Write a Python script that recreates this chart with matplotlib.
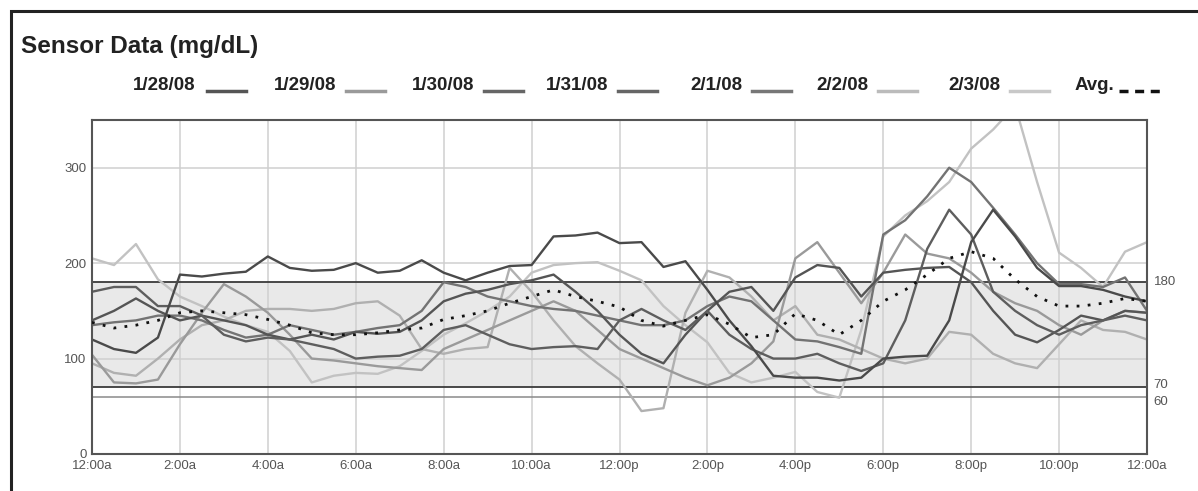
import numpy as np
import matplotlib
matplotlib.use('Agg')
import matplotlib.pyplot as plt
from matplotlib.lines import Line2D
from matplotlib.patches import Rectangle

plt.rcParams['font.family'] = ['Liberation Sans', 'DejaVu Sans']

# readings every half hour, 12:00a .. 12:00a
hours = np.arange(0, 24.5, 0.5)

d_0128 = [120, 110, 106, 122, 188, 186, 189, 191, 207, 195, 192, 193, 200, 190, 192, 203,
          190, 182, 190, 197, 198, 228, 229, 232, 221, 222, 196, 202, 172, 140, 113, 82,
          80, 80, 77, 80, 100, 102, 103, 140, 222, 256, 228, 195, 176, 176, 172, 165, 160]
d_0129 = [104, 75, 74, 78, 115, 148, 178, 165, 148, 125, 100, 98, 95, 92, 90, 88,
          110, 120, 130, 140, 150, 160, 150, 130, 110, 100, 90, 80, 72, 80, 95, 118,
          205, 222, 190, 158, 190, 230, 210, 205, 190, 170, 158, 150, 135, 125, 140, 150, 148]
d_0130 = [170, 175, 175, 155, 155, 145, 125, 118, 122, 120, 115, 110, 100, 102, 103, 110,
          130, 135, 125, 115, 110, 112, 113, 110, 140, 152, 140, 130, 150, 125, 110, 100,
          100, 105, 95, 87, 95, 140, 215, 256, 230, 170, 150, 135, 125, 135, 140, 145, 140]
d_0131 = [140, 150, 163, 150, 140, 145, 140, 135, 125, 120, 125, 120, 128, 126, 128, 140,
          160, 168, 172, 178, 182, 188, 170, 150, 125, 105, 95, 125, 150, 170, 175, 150,
          185, 198, 195, 165, 190, 193, 195, 196, 180, 150, 125, 117, 130, 145, 140, 150, 148]
d_0201 = [135, 138, 140, 145, 145, 140, 130, 122, 125, 135, 130, 125, 128, 132, 135, 150,
          180, 175, 165, 160, 155, 152, 150, 145, 140, 135, 135, 140, 155, 165, 160, 140,
          120, 118, 112, 105, 230, 245, 270, 300, 285, 258, 230, 200, 178, 178, 175, 185, 150]
d_0202 = [95, 85, 82, 100, 120, 135, 140, 150, 152, 152, 150, 152, 158, 160, 145, 110,
          105, 110, 112, 195, 170, 140, 113, 95, 78, 45, 48, 148, 192, 185, 165, 140,
          155, 125, 120, 110, 100, 95, 100, 128, 125, 105, 95, 90, 115, 140, 130, 128, 120]
d_0203 = [205, 198, 220, 183, 165, 155, 144, 135, 128, 108, 75, 82, 85, 84, 92, 108,
          125, 137, 150, 165, 190, 198, 200, 201, 192, 182, 155, 135, 117, 85, 75, 80,
          86, 65, 59, 130, 228, 250, 265, 285, 320, 340, 365, 285, 211, 195, 175, 212, 222]
avg = [138, 132, 135, 140, 148, 150, 148, 146, 141, 135, 127, 125, 125, 127, 130, 132,
       141, 145, 150, 158, 165, 172, 165, 160, 154, 140, 134, 140, 146, 136, 122, 125,
       147, 140, 125, 140, 160, 172, 188, 205, 212, 205, 183, 165, 155, 155, 158, 163, 160]

days = ['1/28/08', '1/29/08', '1/30/08', '1/31/08', '2/1/08', '2/2/08', '2/3/08']
series = [d_0128, d_0129, d_0130, d_0131, d_0201, d_0202, d_0203]
colors = ['#4a4a4a', '#9a9a9a', '#5e5e5e', '#555555', '#737373', '#b0b0b0', '#c2c2c2']

x_ticks = list(range(0, 25, 2))
x_labels = ['12:00a', '2:00a', '4:00a', '6:00a', '8:00a', '10:00a', '12:00p',
            '2:00p', '4:00p', '6:00p', '8:00p', '10:00p', '12:00a']

W, H = 1198, 491
fig = plt.figure(figsize=(W / 100, H / 100), dpi=100)
ax = fig.add_axes([92 / W, 1 - 454 / H, (1147 - 92) / W, (454 - 120) / H])

# target band
ax.axhspan(70, 180, facecolor='#e9e9e9', edgecolor='none', zorder=0)
ax.axhline(180, color='#3a3a3a', lw=1.3, zorder=1)
ax.axhline(70, color='#3a3a3a', lw=1.3, zorder=1)
ax.axhline(60, color='#8a8a8a', lw=1.1, zorder=1)

# lightest first so darker days sit on top
order = [6, 5, 1, 4, 3, 2, 0]
for i in order:
    ax.plot(hours, series[i], color=colors[i], lw=1.7, zorder=2)
ax.plot(hours, avg, color='#111111', lw=2.0, linestyle=(0, (1, 3)), zorder=3)

ax.set_xlim(0, 24)
ax.set_ylim(0, 350)
ax.set_xticks(x_ticks)
ax.set_xticklabels(x_labels, fontsize=9.5, color='#555555')
ax.set_yticks([0, 100, 200, 300])
ax.set_yticklabels(['0', '100', '200', '300'], fontsize=9.5, color='#555555')
ax.tick_params(length=0, pad=4)
ax.grid(True, color='#cfcfcf', lw=1.1, zorder=0)
ax.set_axisbelow(True)
for s in ax.spines.values():
    s.set_color('#555555')
    s.set_linewidth(1.5)

# limit labels on the right
for val, ypos in [(180, 180), (70, 72), (60, 54)]:
    ax.text(24.15, ypos, str(val), fontsize=9.5, color='#555555', va='center', ha='left',
            clip_on=False)

# outer frame
fig.add_artist(Rectangle((11 / W, -0.05), 1.1, 1 - 11 / H + 0.05, transform=fig.transFigure,
                         fill=False, edgecolor='#222222', lw=2.2))

fig.text(21 / W, 1 - 47 / H, 'Sensor Data (mg/dL)', fontsize=17.5, fontweight='bold',
         va='center', ha='left', color='#222222')

# legend row
text_x = [133, 274, 412, 546, 690, 816, 948]
line_x = [207, 346, 484, 618, 752, 878, 1010]
leg_y = 1 - 85 / H
line_y = 1 - 91 / H
leg_colors = ['#555555', '#9a9a9a', '#666666', '#666666', '#777777', '#bbbbbb', '#c8c8c8']
for lab, tx, lx, c in zip(days, text_x, line_x, leg_colors):
    fig.text(tx / W, leg_y, lab, fontsize=13.5, fontweight='bold', va='center', ha='left',
             color='#222222')
    fig.add_artist(Line2D([lx / W, (lx + 39) / W], [line_y, line_y],
                          transform=fig.transFigure, color=c, lw=2.5))
fig.text(1075 / W, leg_y, 'Avg.', fontsize=13.5, fontweight='bold', va='center', ha='left',
         color='#222222')
fig.add_artist(Line2D([1119 / W, 1161 / W], [line_y, line_y],
                      transform=fig.transFigure, color='#111111', lw=2.5,
                      linestyle=(0, (2.6, 1.9))))

fig.savefig('out.png', dpi=100)
